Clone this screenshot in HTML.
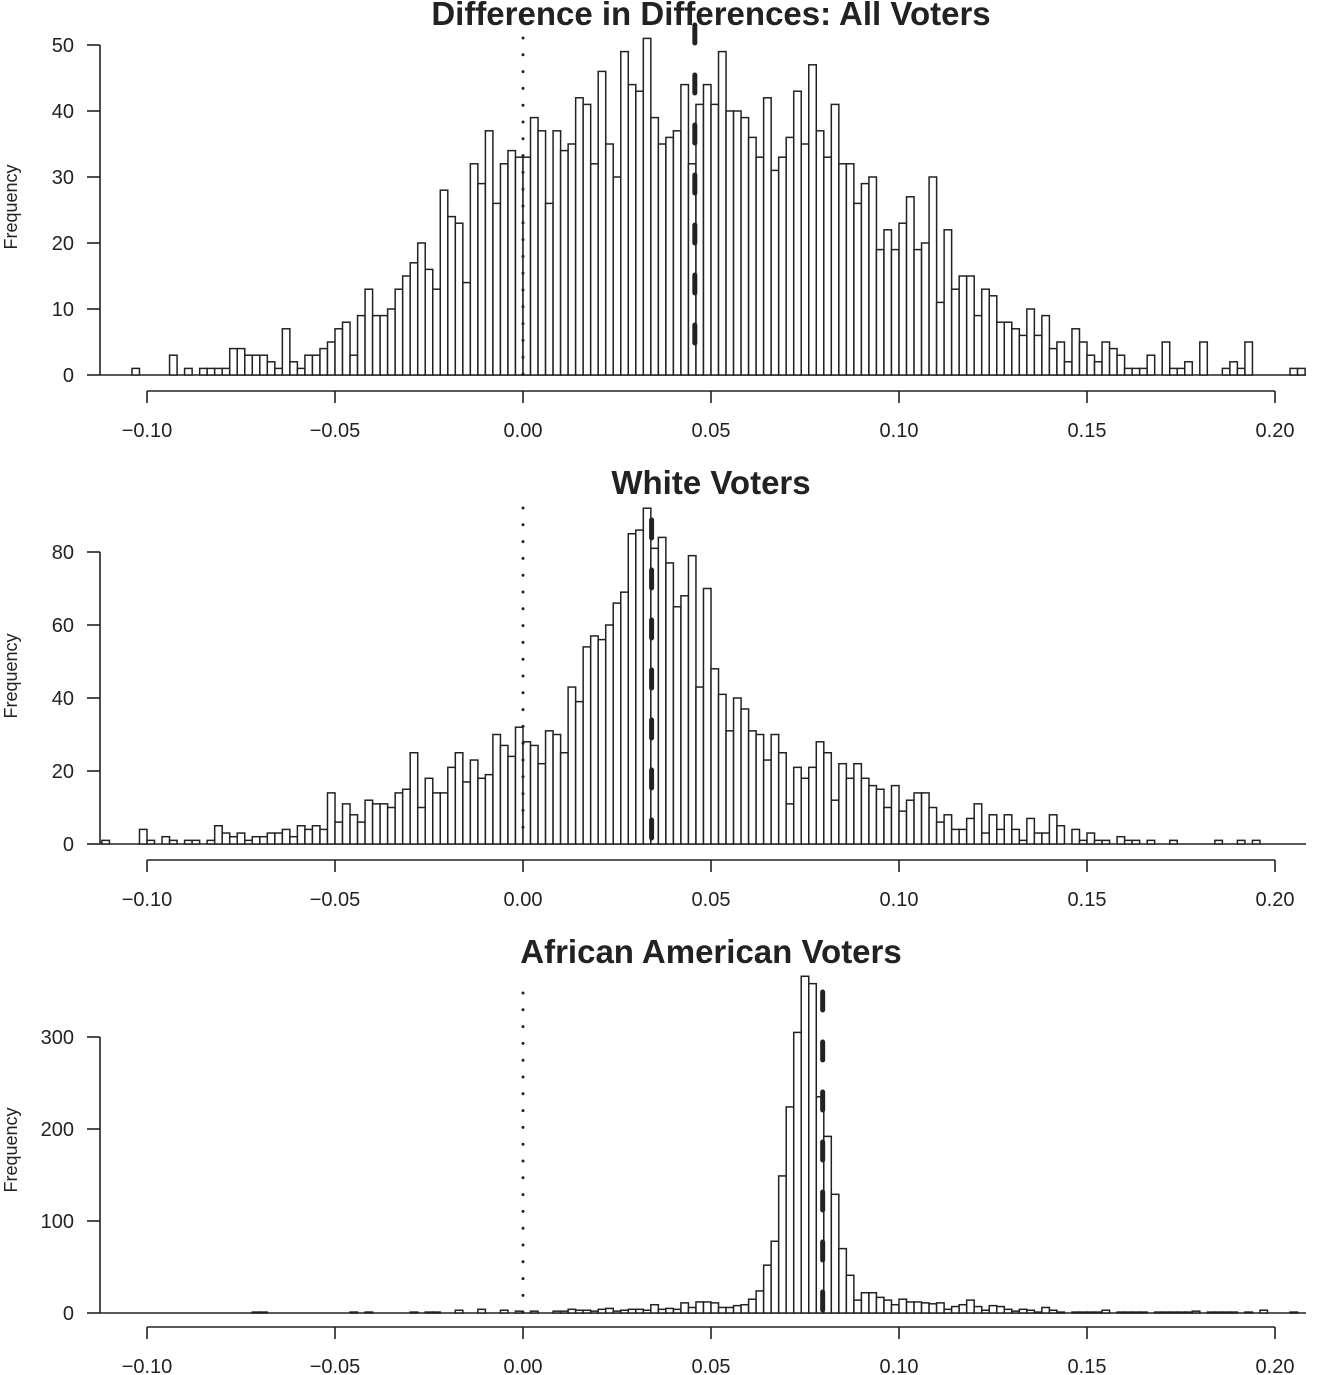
<!DOCTYPE html>
<html><head><meta charset="utf-8">
<style>
html,body{margin:0;padding:0;background:#fff;}
svg{display:block;font-family:"Liberation Sans",Arial,sans-serif;}
</style></head>
<body>
<svg id="chart" width="1322" height="1375" viewBox="0 0 1322 1375" xmlns="http://www.w3.org/2000/svg"></svg>
<script>
// ---- data (bin width 0.002) ----
const binWidth = 0.002;
const allStart = -0.104;
const allCounts = [1,0,0,0,0,3,0,1,0,1,1,1,1,4,4,3,3,3,2,1,7,2,1,3,3,4,5,7,8,3,9,13,9,9,10,13,15,17,20,16,13,28,24,23,14,32,29,37,26,32,34,33,
33,39,37,26,37,34,35,42,41,32,46,35,30,49,44,43,51,39,35,36,37,44,32,41,44,41,49,40,40,39,36,33,42,31,33,36,43,35,47,37,33,
41,32,32,26,29,30,19,22,19,23,27,19,20,30,11,22,13,15,15,9,13,12,8,8,7,6,10,6,9,4,5,2,7,5,3,2,5,4,3,1,1,1,3,0,5,1,1,2,0,5,0,0,1,2,1,5,0,0,0,0,0,1,1];
const whiteStart = -0.112;
const whiteCounts = [1,0,0,0,0,4,1,0,2,1,0,1,1,0,1,5,3,2,3,1,2,2,3,3,4,2,5,4,5,4,14,6,11,8,6,12,11,11,10,14,15,25,10,18,14,14,21,25,17,23,18,19,30,27,24,32,
28,27,22,31,30,25,43,39,54,57,56,60,66,69,85,86,92,81,84,77,65,68,79,43,70,48,41,31,40,37,31,30,23,30,
25,11,21,18,21,28,25,12,22,18,22,18,16,15,10,16,9,12,14,14,10,6,8,4,4,7,11,3,8,4,8,4,1,7,3,3,8,5,0,4,1,3,1,1,0,2,1,1,0,1,0,0,1,0,0,0,0,0,1,0,0,1,0,1];
const aaStart = -0.072;
const aaCounts = [1,1,0,0,0,0,0,0,0,0,0,0,0,1,0,1,0,0,0,0,0,1,0,1,1,0,0,3,0,0,4,0,0,3,0,2,0,2,0,0,2,2,4,3,3,2,4,5,2,3,4,4,3,9,4,5,4,11,6,12,12,11,6,6,8,9,15,24,
52,78,149,224,305,366,358,235,192,129,70,41,14,22,22,17,14,9,15,12,12,11,10,11,4,7,9,14,7,3,8,7,4,2,4,3,1,6,3,1,0,1,1,1,1,3,0,1,1,1,1,0,1,1,1,1,1,2,0,1,1,1,1,0,1,0,3,0,0,0,1];
const xTicks = [-0.10,-0.05,0.00,0.05,0.10,0.15,0.20];
const xTickLabels = ["−0.10","−0.05","0.00","0.05","0.10","0.15","0.20"];
const allYTicks = [0,10,20,30,40,50];
const whiteYTicks = [0,20,40,60,80];
const aaYTicks = [0,100,200,300];
const estimates = [0.0457, 0.0342, 0.0797];
const titles = ["Difference in Differences: All Voters","White Voters","African American Voters"];

// ---- layout ----
const NS="http://www.w3.org/2000/svg";
const svg=document.getElementById('chart');
function xs(v){return 523+3760*v;}
function el(tag,attrs,parent){const e=document.createElementNS(NS,tag);for(const k in attrs)e.setAttribute(k,attrs[k]);(parent||svg).appendChild(e);return e;}

const panels=[
 {name:'all-voters',start:allStart,counts:allCounts,yTicks:allYTicks,base:375,ppu:6.6,axisY:391,titleY:25,topLine:38,dashTop:25,freqY:207},
 {name:'white-voters',start:whiteStart,counts:whiteCounts,yTicks:whiteYTicks,base:844,ppu:3.65,axisY:860,titleY:494,topLine:508,dashTop:520,freqY:676},
 {name:'african-american-voters',start:aaStart,counts:aaCounts,yTicks:aaYTicks,base:1313,ppu:0.92,axisY:1327,titleY:963,topLine:993,dashTop:992,freqY:1150}
];

panels.forEach((p,pi)=>{
  const g=el('g',{});
  
  
  const ys=v=>p.base-v*p.ppu;
  const t=el('text',{x:711,y:p.titleY,'text-anchor':'middle','font-size':33,'font-weight':'bold',fill:'#222'},g);
  t.textContent=titles[pi];
  
  
  const fl=el('text',{x:0,y:0,'text-anchor':'middle','font-size':18,fill:'#222',transform:`translate(17,${p.freqY}) rotate(-90)`},g);
  fl.textContent='Frequency';
  
  
  const yTop=ys(p.yTicks[p.yTicks.length-1]);
  const ya=el('line',{x1:100,x2:100,y1:p.base,y2:yTop,stroke:'#222','stroke-width':1.6},g);
  
  
  p.yTicks.forEach(v=>{
    const y=ys(v);
    el('line',{x1:87,x2:100,y1:y,y2:y,stroke:'#222','stroke-width':1.6},g);
    const tl=el('text',{x:74,y:y+7,'text-anchor':'end','font-size':20,fill:'#222'},g);
    tl.textContent=String(v);
    
    
  });
  const xa=el('line',{x1:xs(xTicks[0]),x2:xs(xTicks[xTicks.length-1]),y1:p.axisY,y2:p.axisY,stroke:'#222','stroke-width':1.6},g);
  
  
  xTicks.forEach((v,i)=>{
    const x=xs(v);
    el('line',{x1:x,x2:x,y1:p.axisY,y2:p.axisY+12,stroke:'#222','stroke-width':1.6},g);
    const tl=el('text',{x:x,y:p.axisY+46,'text-anchor':'middle','font-size':20,fill:'#222'},g);
    tl.textContent=xTickLabels[i];
    
    
  });
  el('line',{x1:100,x2:1306,y1:p.base,y2:p.base,stroke:'#222','stroke-width':1.6},g);
  p.counts.forEach((c,i)=>{
    if(c<=0) return;
    const lo=p.start+i*binWidth;
    const x0=xs(lo), x1=xs(lo+binWidth);
    const r=el('rect',{x:x0,y:ys(c),width:x1-x0,height:c*p.ppu,fill:'#fff',stroke:'#222','stroke-width':1.5},g);
    
    
  });
  const zl=el('line',{x1:xs(0),x2:xs(0),y1:p.topLine,y2:p.base,stroke:'#222','stroke-width':3,'stroke-dasharray':'0 16.8','stroke-linecap':'round'},g);
  
  
  const dl=el('line',{x1:xs(estimates[pi]),x2:xs(estimates[pi]),y1:p.dashTop,y2:p.base,stroke:'#222','stroke-width':5,'stroke-dasharray':'18 32','stroke-linecap':'round'},g);
  
  
});
</script>
</body></html>
